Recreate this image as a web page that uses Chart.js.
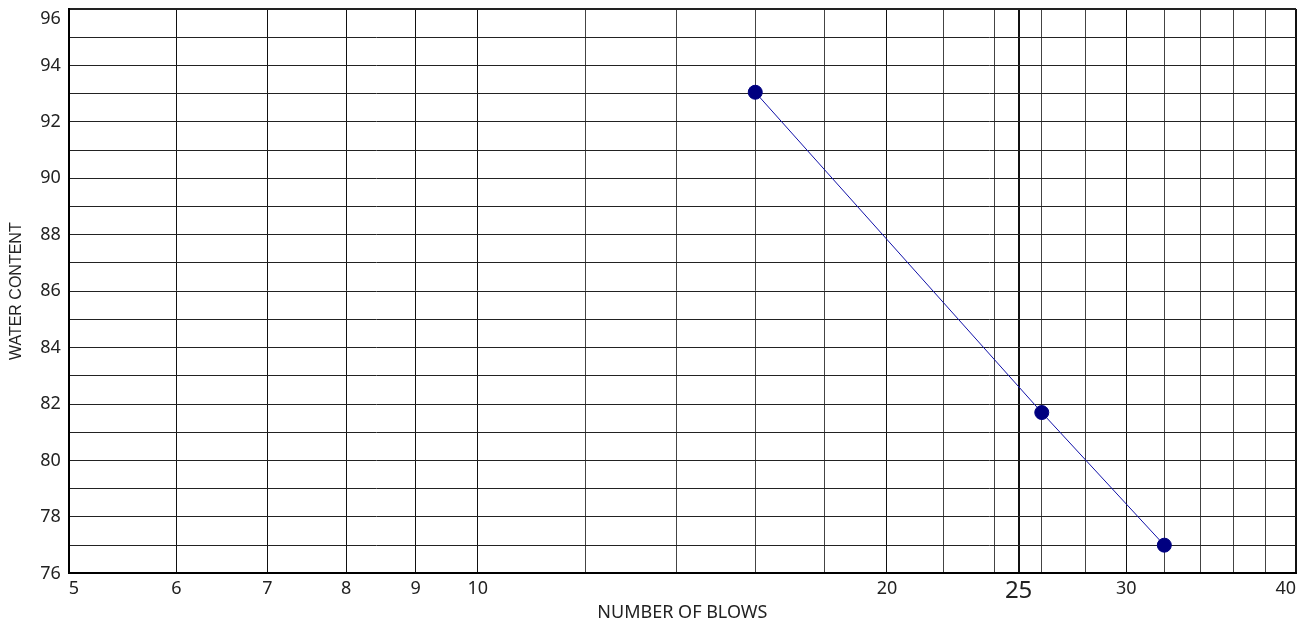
<!DOCTYPE html>
<html>
<head>
<meta charset="utf-8">
<script src="https://cdn.jsdelivr.net/npm/chart.js@4.4.1/dist/chart.umd.min.js"></script>
<style>
  html, body { margin: 0; padding: 0; background: #fff; }
  #wrap { width: 1307px; height: 624px; position: relative; }
</style>
</head>
<body>
<div id="wrap"><canvas id="flowChart"></canvas></div>
<script>
// Flow curve: number of blows (log) vs water content
const blows = [16, 26, 32];
const waterContent = [93.05, 81.7, 77.0];

// x grid lines and which of them carry a label
const xGridValues = [5, 6, 7, 8, 9, 10, 12, 14, 16, 18, 20, 22, 24, 25, 26, 28, 30, 32, 34, 36, 38, 40];
const xLabelValues = [5, 6, 7, 8, 9, 10, 20, 25, 30, 40];
const LL_BLOWS = 25;

const Y_MIN = 76, Y_MAX = 96;

const FONT = "'Noto Sans', 'Liberation Sans', Arial, sans-serif";

const points = blows.map((b, i) => ({ x: b, y: waterContent[i] }));

new Chart(document.getElementById('flowChart').getContext('2d'), {
  type: 'scatter',
  data: {
    datasets: [{
      data: points,
      showLine: true,
      borderColor: '#1010a8',
      borderWidth: 1,
      backgroundColor: '#000080',
      pointBackgroundColor: '#000080',
      pointBorderColor: '#000080',
      pointRadius: 7,
      pointHoverRadius: 7,
    }],
  },
  options: {
    responsive: true,
    maintainAspectRatio: false,
    animation: false,
    layout: { padding: { top: 9, right: 11, left: 7, bottom: 0 } },
    plugins: { legend: { display: false }, tooltip: { enabled: false } },
    scales: {
      x: {
        type: 'logarithmic',
        min: 5,
        max: 40,
        afterBuildTicks: (axis) => { axis.ticks = xGridValues.map(v => ({ value: v })); },
        // the big "25" label would otherwise push the plot up
        afterFit: (scale) => { scale.height -= 7; },
        border: { color: '#000', width: 2 },
        grid: {
          drawTicks: false,
          color: (ctx) => (ctx.tick && xLabelValues.includes(ctx.tick.value)) ? '#111' : '#444',
          lineWidth: (ctx) => (ctx.tick && (ctx.tick.value === LL_BLOWS || ctx.tick.value === 40)) ? 2 : 1,
        },
        ticks: {
          autoSkip: false,
          maxRotation: 0,
          align: 'inner',
          padding: 6,
          color: '#222',
          font: (ctx) => (ctx.tick && ctx.tick.value === LL_BLOWS)
            ? { family: FONT, size: 24, lineHeight: 1 }
            : { family: FONT, size: 18, lineHeight: 1 },
          callback: (v) => xLabelValues.includes(v) ? String(v) : '',
        },
        title: {
          display: true,
          text: 'NUMBER OF BLOWS',
          color: '#222',
          font: { family: FONT, size: 18 },
          padding: { top: 0, bottom: 0 },
        },
      },
      y: {
        min: Y_MIN,
        max: Y_MAX,
        // keep the plot edge flush with the top; the 96 label sits inside instead
        afterFit: (scale) => { scale.paddingTop = 0; scale.paddingBottom = 0; },
        border: { color: '#000', width: 2 },
        grid: {
          drawTicks: false,
          color: '#222',
          lineWidth: (ctx) => (ctx.tick && ctx.tick.value === Y_MAX) ? 2 : 1,
        },
        ticks: {
          stepSize: 1,
          autoSkip: false,
          padding: 8,
          color: '#222',
          font: { family: FONT, size: 18, lineHeight: 1.1 },
          callback: (v) => {
            if (v % 2 !== 0) return '';
            return v === Y_MAX ? ['', String(v)] : String(v);
          },
        },
        title: {
          display: true,
          text: 'WATER CONTENT',
          color: '#222',
          font: { family: "'Liberation Sans', Arial, sans-serif", size: 16 },
          padding: { top: 0, bottom: 6 },
        },
      },
    },
  },
});
</script>
</body>
</html>
